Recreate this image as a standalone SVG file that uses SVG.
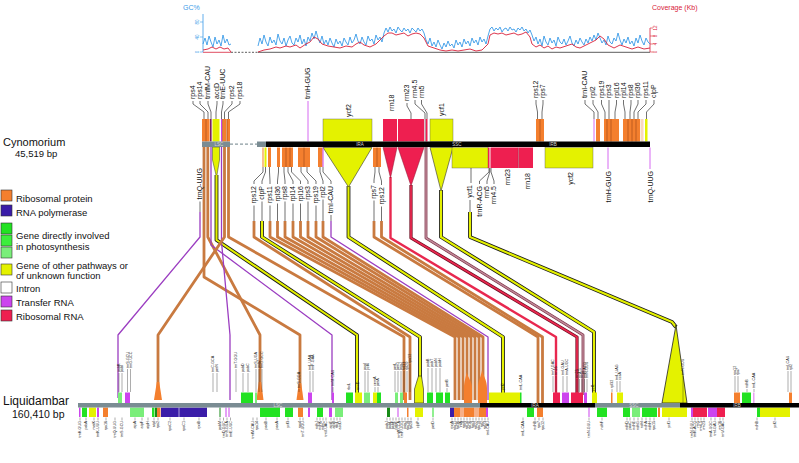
<svg xmlns="http://www.w3.org/2000/svg" width="799" height="463" viewBox="0 0 799 463">
<style>
text{font-family:"Liberation Sans",Arial,sans-serif;fill:#111}
.lg{font-size:9.5px}
.cl{font-size:7px}
.tl{font-size:3.7px}
.bl{font-size:4.5px;fill:#d8d8d8}
.ld{fill:none;stroke:#111;stroke-width:0.6}
.tld{fill:none;stroke:#111;stroke-width:0.35}
.c{fill:none;stroke-linejoin:round}
.o{stroke:#C97A40;stroke-width:2.8}
.p{stroke:#9B3DC1;stroke-width:1.3}
.yk{stroke:#1a1a1a;stroke-width:3.8}
.y{stroke:#E3F000;stroke-width:2.1}
.rk{stroke:#6A0A1E;stroke-width:3.2}
.r{stroke:#E8284F;stroke-width:1.8}
.gk{stroke:#7A3045;stroke-width:2.8}
.g{stroke:#C08898;stroke-width:1.5}
.fo{fill:#F47F2E}
.fi{fill:#3A1CA8}
.fg{fill:#22E222}
.fg2{fill:#3CEE3C}
.fl{fill:#7AEE7A}
.fd{fill:#178A17}
.fy{fill:#E4F200}
.fm{fill:#CC44EE}
.fr{fill:#EE1F50}
.sep{stroke:#8A3A12;stroke-width:0.5}
</style>

<g id="gc-chart">
<text x="183" y="10" font-size="7" style="fill:#3A9BE8">GC%</text>
<text x="652" y="10" font-size="7" style="fill:#D8203A">Coverage (Kb)</text>
<line x1="203" y1="14" x2="203" y2="52" stroke="#3A9BE8" stroke-width="0.8"/>
<path d="M200,22H203M200,37H203M200,52H203" stroke="#3A9BE8" stroke-width="0.6"/>
<text transform="translate(198.5,22) rotate(-90)" text-anchor="middle" font-size="4.5" style="fill:#3A9BE8">80</text>
<text transform="translate(198.5,37) rotate(-90)" text-anchor="middle" font-size="4.5" style="fill:#3A9BE8">40</text>
<text transform="translate(198.5,52) rotate(-90)" text-anchor="middle" font-size="4.5" style="fill:#3A9BE8">0</text>
<line x1="650" y1="28" x2="650" y2="52" stroke="#D8203A" stroke-width="0.8"/>
<path d="M650,28H653M650,36H653M650,44H653M650,52H653" stroke="#D8203A" stroke-width="0.6"/>
<text transform="translate(657,28) rotate(-90)" text-anchor="middle" font-size="4.5" style="fill:#D8203A">12</text>
<text transform="translate(657,36) rotate(-90)" text-anchor="middle" font-size="4.5" style="fill:#D8203A">8</text>
<text transform="translate(657,44) rotate(-90)" text-anchor="middle" font-size="4.5" style="fill:#D8203A">4</text>
<text transform="translate(657,52) rotate(-90)" text-anchor="middle" font-size="4.5" style="fill:#D8203A">0</text>
<line x1="258" y1="52.3" x2="650" y2="52.3" stroke="#333" stroke-width="0.8"/>
<line x1="203" y1="52.3" x2="231" y2="52.3" stroke="#D8203A" stroke-width="0.8"/>
<line x1="231" y1="52.3" x2="258" y2="52.3" stroke="#333" stroke-width="0.8" stroke-dasharray="2,1.5"/>
<path fill="none" stroke="#3A9BE8" stroke-width="0.9" d="M203,44 L205,38 207,45 209,36 211,42 213,47 215,37 217,44 219,40 221,46 223,35 225,43 227,39 229,45 231,44
M258,46 L260,38 262,44 264,35 266,42 268,46 270,37 272,43 274,40 276,45 278,34 280,41 282,44 284,38 286,46 288,40 290,36 292,43 294,45 296,38 298,42 300,35 302,44 304,39 306,46 308,37 310,41 312,33 314,39 316,31 318,38 320,43 322,36 324,44 326,40 328,45 330,38 332,43 334,47 336,39 338,44 340,41 342,46 344,38 346,42 348,45 350,37 352,43 354,40 356,34 358,41 360,44 362,37 364,42 366,45 368,36 370,41 372,39 374,44 376,35 378,40 380,37 382,42 384,33 386,28 388,32 390,27 392,31 394,29 396,33 398,27 400,30 402,32 404,28 406,31 408,29 410,33 412,28 414,30 416,32 418,28 420,31 422,29 424,33 426,40 428,44 430,38 432,46 434,42 436,47 438,40 440,45 442,49 444,43 446,47 448,41 450,46 452,44 454,48 456,40 458,45 460,42 462,47 464,39 466,44 468,41 470,46 472,38 474,43 476,40 478,45 480,37 482,42 484,39 486,44 488,36 490,29 492,27 494,31 496,28 498,30 500,27 502,32 504,29 506,28 508,31 510,27 512,30 514,29 516,32 518,28 520,30 522,27 524,31 526,29 528,33 530,30 532,35 534,41 536,37 538,44 540,39 542,46 544,36 546,42 548,45 550,38 552,43 554,40 556,46 558,37 560,42 562,44 564,39 566,45 568,41 570,36 572,43 574,46 576,40 578,44 580,38 582,42 584,45 586,39 588,43 590,37 592,41 594,35 596,40 598,33 600,38 602,43 604,40 606,45 608,36 610,42 612,44 614,38 616,41 618,33 620,40 622,45 624,39 626,43 628,37 630,44 632,41 634,46 636,38 638,43 640,35 642,41 644,45 646,38 648,42 650,44"/>
<path fill="none" stroke="#D8203A" stroke-width="0.9" d="M203,50 L208,49 212,47 216,49 220,47 224,49 228,48 231,52
M258,52 L264,50 270,49 276,47 280,48 286,46 290,47 296,45 300,48 306,44 310,42 314,37 318,39 322,44 328,46 334,47 340,48 346,46 352,47 356,44 360,42 364,45 370,47 376,44 380,40 384,36 388,33 392,33 396,35 400,34 404,33 408,36 412,34 416,33 420,34 424,38 428,46 434,48 440,50 446,51 452,50 458,51 464,50 470,49 476,51 482,50 488,44 490,35 494,33 498,34 502,33 506,35 510,34 514,33 518,35 522,34 526,32 530,37 532,44 536,47 540,45 544,48 548,46 552,49 556,47 560,48 566,46 572,44 576,47 580,48 586,45 592,42 596,40 600,36 604,39 608,45 614,48 620,45 626,47 632,49 638,47 644,49 650,48"/>
</g>

<g id="legend">
<rect x="1" y="190" width="11" height="11" class="fo" stroke="#333" stroke-width="0.6"/>
<text x="16" y="201.5" class="lg">Ribosomal protein</text>
<rect x="1" y="205" width="11" height="11" class="fi" stroke="#333" stroke-width="0.6"/>
<text x="16" y="215.5" class="lg">RNA polymerase</text>
<rect x="1" y="223" width="11" height="11" class="fg" stroke="#333" stroke-width="0.6"/>
<rect x="1" y="235" width="11" height="11" class="fg2" stroke="#333" stroke-width="0.6"/>
<rect x="1" y="247" width="11" height="11" class="fl" stroke="#333" stroke-width="0.6"/>
<text x="16" y="238.5" class="lg">Gene directly involved</text>
<text x="16" y="249.5" class="lg">in photosynthesis</text>
<rect x="1" y="264" width="11" height="11" class="fy" stroke="#333" stroke-width="0.6"/>
<text x="16" y="268.5" class="lg">Gene of other pathways or</text>
<text x="16" y="278.5" class="lg">of unknown function</text>
<rect x="1" y="282" width="11" height="11" fill="#fff" stroke="#333" stroke-width="0.6"/>
<text x="16" y="291.5" class="lg">Intron</text>
<rect x="1" y="296" width="11" height="11" class="fm" stroke="#333" stroke-width="0.6"/>
<text x="16" y="305.5" class="lg">Transfer RNA</text>
<rect x="1" y="310" width="11" height="11" class="fr" stroke="#333" stroke-width="0.6"/>
<text x="16" y="320" class="lg">Ribosomal RNA</text>
</g>

<g id="genome-titles">
<text x="3" y="146" font-size="11">Cynomorium</text>
<text x="15" y="157" font-size="9.5">45,519 bp</text>
<text x="3" y="405" font-size="12">Liquidambar</text>
<text x="12" y="417.5" font-size="10.5">160,410 bp</text>
</g>

<g id="connectors">
<polyline class="c p" points="200,212 200,237 118,335 118,398"/>
<polyline class="c o" points="204,147 204,277 300,335 300,400"/>
<polyline class="c o" points="207.8,147 207.8,237 260,335 260,400"/>
<polyline class="c p" points="211,147 211,245 332,335 332,400"/>
<polygon points="212.5,147 219.5,147 219.5,160 216.8,176 216.2,176 212.5,160" class="fy" stroke="#333" stroke-width="0.5"/>
<polyline class="c yk" points="216.5,175 216.5,240 357,335 357,398"/>
<polyline class="c y" points="216.5,175 216.5,240 357,335 357,398"/>
<polyline class="c p" points="221.5,147 221.5,242 230,335 230,400"/>
<polyline class="c o" points="224.5,147 224.5,237 158,335 158,400"/>
<polyline class="c o" points="228.5,147 228.5,237 404,337 404,400"/>
<path class="ld" d="M254,205.5V221M262,201.5V221M270,205.5V221M277.5,203.5V221M285,201.5V221M293,203.5V221M300.5,203.5V221M308,201.5V221M316,205.5V221M323,199.5V221M331,215V221M374,200.5V221M381.5,206.5V221M200,201.5V212M470,200V212"/>
<polyline class="c o" points="254,221 254,237 410,337 410,400"/>
<polyline class="c yk" points="262,221 262,237 420,337 420,380"/>
<polyline class="c y" points="262,221 262,237 420,337 420,380"/>
<polyline class="c o" points="270,221 270,237 455,337 455,400"/>
<polyline class="c o" points="277.5,221 277.5,237 459,337 459,400"/>
<polyline class="c o" points="285,221 285,237 463,337 463,400"/>
<polyline class="c o" points="293,221 293,237 467,337 467,400"/>
<polyline class="c o" points="300.5,221 300.5,237 471,337 471,400"/>
<polyline class="c o" points="308,221 308,237 475,337 475,400"/>
<polyline class="c o" points="316,221 316,237 479,337 479,400"/>
<polyline class="c o" points="323,221 323,237 483,337 483,400"/>
<polyline class="c p" points="331,221 331,237 488,337 488,400"/>
<polyline class="c yk" points="348.5,186 348.5,237 503,337 503,395"/>
<polyline class="c y" points="348.5,186 348.5,237 503,337 503,395"/>
<polyline class="c o" points="374,221 374,237 538,337 538,405"/>
<polyline class="c o" points="381.5,221 381.5,237 542.5,337 542.5,405"/>
<polyline class="c r" points="390.5,177 390.5,238 556,337 556,395" style="stroke-width:2.4"/>
<polyline class="c rk" points="411,185 411,238 577,337 577,395"/>
<polyline class="c r" points="411,185 411,238 577,337 577,395"/>
<polyline class="c gk" points="426,147 426,238 583,335 583,395"/>
<polyline class="c g" points="426,147 426,238 583,335 583,395"/>
<polyline class="c yk" points="441,190 441,237 594,332 594,395"/>
<polyline class="c y" points="441,190 441,237 594,332 594,395"/>
<polyline class="c yk" points="470,212 470,237 672,322 676,327"/>
<polyline class="c y" points="470,212 470,237 672,322 676,327"/>
</g>

<g id="cyn-genes-top">
<rect x="202" y="119" width="4" height="22.5" class="fo"/>
<rect x="206" y="119" width="3.6" height="22.5" class="fo"/>
<rect x="210" y="119" width="1.6" height="22.5" fill="#7A1F5C"/>
<rect x="212.5" y="119" width="7" height="22.5" class="fy"/>
<rect x="221" y="119" width="1" height="22.5" class="fm"/>
<rect x="222.5" y="119" width="4" height="22.5" class="fo"/>
<rect x="227" y="119" width="3" height="22.5" class="fo"/>
<path class="sep" d="M206,119V141.5M222.5,119V141.5M227,119V141.5"/>
<line x1="308" y1="101" x2="308" y2="141.5" stroke="#CC44EE" stroke-width="0.8"/>
<rect x="323" y="119" width="49" height="22.5" class="fy" stroke="#555" stroke-width="0.4"/>
<rect x="383" y="119" width="14" height="22.5" class="fr"/>
<rect x="398" y="119" width="26" height="22.5" class="fr"/>
<rect x="424.5" y="119" width="1.5" height="22.5" fill="#C08898"/>
<rect x="426" y="119" width="1.5" height="22.5" class="fr"/>
<rect x="430" y="119" width="23" height="22.5" class="fy" stroke="#555" stroke-width="0.4"/>
<rect x="536" y="119" width="8" height="22.5" class="fo"/>
<path class="sep" d="M540,119V141.5"/>
<line x1="594" y1="119" x2="594" y2="141.5" stroke="#CC44EE" stroke-width="0.8"/>
<rect x="596" y="119" width="4" height="22.5" class="fo"/>
<rect x="604" y="119" width="15" height="22.5" class="fo"/>
<rect x="623" y="119" width="17" height="22.5" class="fo"/>
<rect x="640.5" y="119" width="3" height="22.5" fill="#F8D8C0"/>
<rect x="645" y="119" width="2.5" height="22.5" class="fy"/>
<path class="sep" d="M607,119V141.5M611,119V141.5M628,119V141.5M632,119V141.5M636,119V141.5"/>
</g>

<g id="cyn-genes-bottom">
<polygon points="323,147.5 372,147.5 348.5,187" class="fy" stroke="#333" stroke-width="0.6"/>
<polygon points="383,147.5 397,147.5 390.5,178" class="fr" stroke="#8a1530" stroke-width="0.5"/>
<polygon points="398,147.5 424,147.5 411,186" class="fr" stroke="#8a1530" stroke-width="0.5"/>
<polygon points="430,147.5 453,147.5 441,191" class="fy" stroke="#333" stroke-width="0.6"/>
<rect x="262" y="147.5" width="2" height="19.5" fill="#F8C090"/>
<rect x="264.5" y="147.5" width="2" height="19.5" class="fy"/>
<rect x="268" y="147.5" width="3" height="19.5" class="fo"/>
<rect x="277" y="147.5" width="3" height="19.5" class="fo"/>
<rect x="282" y="147.5" width="11" height="19.5" class="fo"/>
<rect x="298" y="147.5" width="12" height="19.5" class="fo"/>
<rect x="318" y="147.5" width="4.5" height="19.5" class="fo"/>
<rect x="322.5" y="147.5" width="1" height="19.5" class="fm"/>
<rect x="373" y="147.5" width="8" height="19.5" class="fo"/>
<path class="sep" d="M286,147.5V167M290,147.5V167M304,147.5V167M377,147.5V167"/>
<rect x="452" y="147.5" width="36" height="20.5" class="fy" stroke="#555" stroke-width="0.4"/>
<rect x="488" y="147.5" width="1.5" height="20.5" class="fr"/>
<rect x="489.5" y="147.5" width="1.5" height="20.5" fill="#F08AA0"/>
<rect x="491" y="147.5" width="27" height="20.5" class="fr"/>
<rect x="518.5" y="147.5" width="14.5" height="20.5" class="fr"/>
<path stroke="#8a1530" stroke-width="0.5" d="M518.3,147.5V168"/>
<rect x="545" y="147.5" width="48" height="20.5" class="fy" stroke="#555" stroke-width="0.4"/>
<path stroke="#CC44EE" stroke-width="0.8" d="M608,147.5V169M650,147.5V169"/>
</g>

<g id="cyn-bar">
<rect x="202" y="141.5" width="28" height="5.5" fill="#7A8C93"/>
<line x1="230" y1="144.2" x2="257" y2="144.2" stroke="#8A9AA0" stroke-width="1.2" stroke-dasharray="3,2"/>
<rect x="257" y="141.5" width="9" height="5.5" fill="#7A8C93"/>
<rect x="266" y="141.5" width="384" height="5.5" fill="#000"/>
<text x="219" y="146" text-anchor="middle" class="bl">LSC</text>
<text x="360" y="146" text-anchor="middle" class="bl">IRA</text>
<text x="457" y="146" text-anchor="middle" class="bl">SSC</text>
<text x="553" y="146" text-anchor="middle" class="bl">IRB</text>
</g>

<g id="cyn-labels">
<path class="ld" d="M193,101V104L204,112V119M200,101V104L208,112V119M208,101V104L211,112V119M217,101V104L216,112V119M223,101V104L221.5,112V119M232,101V104L224.5,112V119M240,101V104L228.5,112V119"/>
<text class="cl" transform="translate(195.2,99) rotate(-90)">rps4</text>
<text class="cl" transform="translate(202.2,99) rotate(-90)">rps14</text>
<text class="cl" transform="translate(210.2,99) rotate(-90)">trnfM-CAU</text>
<text class="cl" transform="translate(219.2,99) rotate(-90)">accD</text>
<text class="cl" transform="translate(225.2,99) rotate(-90)">trnE-UUC</text>
<text class="cl" transform="translate(234.2,99) rotate(-90)">rps2</text>
<text class="cl" transform="translate(242.2,99) rotate(-90)">rps18</text>
<text class="cl" transform="translate(310.2,99) rotate(-90)">trnH-GUG</text>
<text class="cl" transform="translate(350.5,117) rotate(-90)">ycf2</text>
<text class="cl" transform="translate(394.2,111) rotate(-90)">rrn18</text>
<text class="cl" transform="translate(409.2,101) rotate(-90)">rrn23</text>
<text class="cl" transform="translate(417.2,98) rotate(-90)">rrn4.5</text>
<text class="cl" transform="translate(423.7,98) rotate(-90)">rrn5</text>
<text class="cl" transform="translate(443.7,116) rotate(-90)">ycf1</text>
<path class="ld" d="M407,103V106L411,113V119M415,100V104L425,113V119M421.5,100V104L427,113V119"/>
<path class="ld" d="M536,100V104L537.5,112V119M543,100V104L542,112V119"/>
<text class="cl" transform="translate(538.2,98) rotate(-90)">rps12</text>
<text class="cl" transform="translate(545.2,98) rotate(-90)">rps7</text>
<path class="ld" d="M585,100V104L594,112V119M593,100V104L598,112V119M601.5,100V104L605,112V119M609,100V104L609,112V119M616.5,100V104L615,112V119M623.5,100V104L625,112V119M631,100V104L630,112V119M638,100V104L634,112V119M646,100V104L638,112V119M654,100V104L646.5,112V119"/>
<text class="cl" transform="translate(587.2,98) rotate(-90)">trnI-CAU</text>
<text class="cl" transform="translate(595.2,98) rotate(-90)">rpl2</text>
<text class="cl" transform="translate(603.7,98) rotate(-90)">rps19</text>
<text class="cl" transform="translate(611.2,98) rotate(-90)">rps3</text>
<text class="cl" transform="translate(618.7,98) rotate(-90)">rpl16</text>
<text class="cl" transform="translate(625.7,98) rotate(-90)">rpl14</text>
<text class="cl" transform="translate(633.2,98) rotate(-90)">rps8</text>
<text class="cl" transform="translate(640.2,98) rotate(-90)">rpl36</text>
<text class="cl" transform="translate(648.2,98) rotate(-90)">rps11</text>
<text class="cl" transform="translate(656.2,98) rotate(-90)">clpP</text>
<path class="ld" d="M263,167V172L254,181V184M265.5,167V172L262,181V184M269.5,167V172L270,181V184M278.5,167V172L277.5,181V184M284,167V172L285,181V184M288,167V172L293,181V184M291.5,167V172L300.5,181V184M301,167V172L308,181V184M307,167V172L316,181V184M320,167V172L323,181V184M323,167V172L331,181V184M375,167V172L374,180V183M379,167V172L381.5,181V185M471,168V183M489,168V172L479.5,181V184M489.8,168V172L487,181V184M491,168V172L494,181V184"/>
<text class="cl" text-anchor="end" transform="translate(202.2,168) rotate(-90)">trnQ-UUG</text>
<text class="cl" text-anchor="end" transform="translate(256.2,186) rotate(-90)">rps12</text>
<text class="cl" text-anchor="end" transform="translate(264.2,186) rotate(-90)">clpP</text>
<text class="cl" text-anchor="end" transform="translate(272.2,186) rotate(-90)">rps11</text>
<text class="cl" text-anchor="end" transform="translate(279.7,186) rotate(-90)">rpl36</text>
<text class="cl" text-anchor="end" transform="translate(287.2,186) rotate(-90)">rps8</text>
<text class="cl" text-anchor="end" transform="translate(295.2,186) rotate(-90)">rpl14</text>
<text class="cl" text-anchor="end" transform="translate(302.7,186) rotate(-90)">rpl16</text>
<text class="cl" text-anchor="end" transform="translate(310.2,186) rotate(-90)">rps3</text>
<text class="cl" text-anchor="end" transform="translate(318.2,186) rotate(-90)">rps19</text>
<text class="cl" text-anchor="end" transform="translate(325.2,186) rotate(-90)">rpl2</text>
<text class="cl" text-anchor="end" transform="translate(333.2,186) rotate(-90)">trnI-CAU</text>
<text class="cl" text-anchor="end" transform="translate(376.2,185) rotate(-90)">rps7</text>
<text class="cl" text-anchor="end" transform="translate(383.7,187) rotate(-90)">rps12</text>
<text class="cl" text-anchor="end" transform="translate(472.2,185) rotate(-90)">ycf1</text>
<text class="cl" text-anchor="end" transform="translate(481.7,186) rotate(-90)">trnR-ACG</text>
<text class="cl" text-anchor="end" transform="translate(489.2,186) rotate(-90)">rrn5</text>
<text class="cl" text-anchor="end" transform="translate(496.2,186) rotate(-90)">rrn4.5</text>
<text class="cl" text-anchor="end" transform="translate(510.2,169) rotate(-90)">rrn23</text>
<text class="cl" text-anchor="end" transform="translate(530.2,173) rotate(-90)">rrn18</text>
<text class="cl" text-anchor="end" transform="translate(573.2,172) rotate(-90)">ycf2</text>
<text class="cl" text-anchor="end" transform="translate(611.2,171) rotate(-90)">trnH-GUG</text>
<text class="cl" text-anchor="end" transform="translate(653.2,171) rotate(-90)">trnQ-UUG</text>
</g>

<g id="liq-genes">
<polygon points="156.8,382 159.2,382 162,400 154,400" class="fo"/>
<polygon points="258.8,382 261.2,382 263.5,400 256.5,400" class="fo"/>
<polygon points="298.8,383 301.2,383 303.5,400 296.5,400" class="fo"/>
<path class="fo" d="M466.5,372 C468,378 472,381 472,388 L472,403 L464,403 L464,388 C464,381 466,378 466.5,372 Z"/>
<path class="fo" d="M482,370 C484,377 487,381 487,388 L487,403 L478,403 L478,388 C478,381 481,377 482,370 Z"/>
<path class="fy" stroke="#222" stroke-width="0.6" d="M418.5,376 L421.5,376 L423.5,389 L423.5,403 L414.5,403 L414.5,389 Z"/>
<path class="fy" stroke="#222" stroke-width="0.8" d="M676,325 L687,403 L662,403 Z"/>
<rect x="118" y="392.5" width="4" height="10.5" class="fl"/>
<rect x="125" y="392.5" width="5" height="10.5" class="fm"/>
<rect x="241" y="392.5" width="12" height="10.5" class="fg"/>
<rect x="255" y="392.5" width="2" height="10.5" class="fl"/>
<rect x="308" y="392.5" width="4" height="10.5" class="fm"/>
<rect x="332" y="392.5" width="2" height="10.5" class="fm"/>
<rect x="346" y="392.5" width="7" height="10.5" class="fg"/>
<rect x="355" y="392.5" width="7" height="10.5" class="fy"/>
<rect x="364" y="392.5" width="6" height="10.5" class="fl"/>
<rect x="373" y="392.5" width="4" height="10.5" class="fy"/>
<rect x="377" y="392.5" width="4" height="10.5" class="fg"/>
<rect x="395" y="392.5" width="3" height="10.5" class="fl"/>
<rect x="400" y="392.5" width="3" height="10.5" class="fl"/>
<rect x="404" y="392.5" width="3" height="10.5" class="fo"/>
<rect x="427" y="392.5" width="6" height="10.5" class="fg"/>
<rect x="436" y="392.5" width="7" height="10.5" class="fg"/>
<rect x="445" y="392.5" width="5" height="10.5" class="fg"/>
<rect x="489" y="392.5" width="31" height="10.5" class="fy"/>
<rect x="520" y="392.5" width="1.5" height="10.5" class="fg"/>
<rect x="553" y="392.5" width="7" height="10.5" class="fr"/>
<rect x="562" y="392.5" width="7" height="10.5" class="fm"/>
<rect x="571" y="392.5" width="12" height="10.5" class="fr"/>
<rect x="584" y="392.5" width="3" height="10.5" class="fm"/>
<rect x="592" y="392.5" width="5" height="10.5" class="fy"/>
<rect x="611" y="392.5" width="1.5" height="10.5" class="fo"/>
<rect x="617" y="392.5" width="6" height="10.5" class="fy"/>
<rect x="734" y="392.5" width="6" height="10.5" class="fo"/>
<rect x="742" y="392.5" width="9" height="10.5" class="fg"/>
<rect x="753" y="392.5" width="1.5" height="10.5" fill="#E8A0F4"/>
<rect x="789" y="392.5" width="3" height="10.5" class="fo"/>
<rect x="79" y="407.5" width="1.5" height="9.5" class="fm"/>
<rect x="82" y="407.5" width="5" height="9.5" class="fg"/>
<rect x="89" y="407.5" width="7" height="9.5" class="fy"/>
<rect x="97" y="407.5" width="2" height="9.5" class="fm"/>
<rect x="103" y="407.5" width="5" height="9.5" class="fo"/>
<rect x="130" y="407.5" width="14" height="9.5" class="fl"/>
<rect x="152" y="407.5" width="2.5" height="9.5" class="fg"/>
<rect x="155" y="407.5" width="2" height="9.5" class="fd"/>
<rect x="157" y="407.5" width="3.5" height="9.5" class="fo"/>
<rect x="161" y="407.5" width="46" height="9.5" class="fi"/>
<line x1="179" y1="407.5" x2="179" y2="417" stroke="#fff" stroke-width="0.6"/>
<rect x="219.5" y="407.5" width="1" height="9.5" class="fd"/>
<rect x="225.5" y="407.5" width="1" height="9.5" class="fm"/>
<rect x="228.5" y="407.5" width="1" height="9.5" class="fm"/>
<rect x="260" y="407.5" width="20" height="9.5" class="fg"/>
<rect x="285" y="407.5" width="8" height="9.5" class="fg"/>
<rect x="298" y="407.5" width="5" height="9.5" class="fo"/>
<rect x="308" y="407.5" width="2" height="9.5" class="fm"/>
<rect x="317" y="407.5" width="6" height="9.5" class="fg"/>
<rect x="329" y="407.5" width="3" height="9.5" class="fm"/>
<rect x="335" y="407.5" width="8" height="9.5" class="fl"/>
<rect x="387" y="407.5" width="3" height="9.5" class="fd"/>
<rect x="397.5" y="407.5" width="1" height="9.5" class="fm"/>
<rect x="407" y="407.5" width="1.5" height="9.5" class="fo"/>
<rect x="415" y="407.5" width="8" height="9.5" class="fy"/>
<rect x="432.5" y="407.5" width="1" height="9.5" class="fg"/>
<rect x="450" y="407.5" width="4" height="9.5" class="fi"/>
<rect x="454" y="407.5" width="6" height="9.5" class="fo"/>
<rect x="460" y="407.5" width="4" height="9.5" fill="#F7B088"/>
<rect x="464" y="407.5" width="10" height="9.5" class="fo"/>
<rect x="474" y="407.5" width="5" height="9.5" fill="#F7B088"/>
<rect x="479" y="407.5" width="7" height="9.5" class="fo"/>
<rect x="486" y="407.5" width="2" height="9.5" class="fm"/>
<rect x="527" y="407.5" width="7" height="9.5" class="fg"/>
<rect x="537" y="407.5" width="6" height="9.5" class="fo"/>
<rect x="588.5" y="407.5" width="1" height="9.5" class="fm"/>
<rect x="597" y="407.5" width="10" height="9.5" class="fg"/>
<rect x="623" y="407.5" width="7" height="9.5" class="fg"/>
<rect x="632" y="407.5" width="8" height="9.5" class="fl"/>
<rect x="642" y="407.5" width="15" height="9.5" class="fg"/>
<rect x="658" y="407.5" width="2" height="9.5" class="fo"/>
<rect x="662" y="407.5" width="25" height="9.5" class="fy"/>
<rect x="691" y="407.5" width="2" height="9.5" class="fm"/>
<rect x="693" y="407.5" width="14" height="9.5" class="fr"/>
<rect x="708" y="407.5" width="9" height="9.5" class="fm"/>
<rect x="717" y="407.5" width="8" height="9.5" class="fr"/>
<rect x="757" y="407.5" width="3" height="9.5" class="fg"/>
<rect x="760" y="407.5" width="30" height="9.5" class="fy"/>
</g>

<g id="liq-bar">
<rect x="78" y="403" width="402" height="4.5" fill="#7A8C93"/>
<rect x="480" y="403" width="115" height="4.5" fill="#000"/>
<rect x="595" y="403" width="85" height="4.5" fill="#7A8C93"/>
<rect x="680" y="403" width="119" height="4.5" fill="#000"/>
<text x="278" y="407" text-anchor="middle" class="bl">LSC</text>
<text x="535" y="407" text-anchor="middle" class="bl">IRA</text>
<text x="634" y="407" text-anchor="middle" class="bl">SSC</text>
<text x="737" y="407" text-anchor="middle" class="bl">IRB</text>
</g>

<g id="liq-labels">
<path class="tld" d="M119,373V392M122,373V392M127.5,369V392M130.5,369V392M213,373V392M217,373V392M236,369V392M243,373V392M248,373V392M256,369V392M259,369V392M262,369V392M299,389V392M310,371V392M313,371V392M333,387V392M365,371V392M368,371V392M375,387V392M378,387V392M395,371V392M398,371V392M401,371V392M404,371V392M407,371V392M410,364V392M428,368V392M432,368V392M436,368V392M440,368V392M447,388V392M553,376V392M556,376V392M563,376V392M567,376V392M577,379V392M579.5,379V392M582,379V392M584.5,379V392M587,379V392M612,389V392M617,381V392M620,381V392M683,376V403M735,376V392M738,376V392M747,389V392M754,389V392M788,371V392M791,371V392"/>
<path class="tld" d="M80,417.5V420.5M86,417.5V420.5M94,417.5V420.5M98,417.5V420.5M106,417.5V420.5M115,417.5V420.5M122,417.5V420.5M135,417.5V420.5M142,417.5V420.5M148,417.5V420.5M154,417.5V420.5M158,417.5V420.5M170,417.5V420.5M184,417.5V420.5M199,417.5V420.5M220,417.5V420.5M223.5,417.5V420.5M227,417.5V420.5M230.5,417.5V420.5M253,417.5V420.5M257,417.5V420.5M266,417.5V420.5M277,417.5V420.5M288,417.5V420.5M300,417.5V420.5M303,417.5V420.5M317,417.5V420.5M320,417.5V420.5M323,417.5V420.5M326,417.5V420.5M331,417.5V420.5M334,417.5V420.5M337,417.5V420.5M340,417.5V420.5M387,417.5V420.5M390,417.5V420.5M393,417.5V420.5M396,417.5V420.5M399,417.5V420.5M402,417.5V420.5M405,417.5V420.5M408,417.5V420.5M411,417.5V420.5M418,417.5V420.5M433,417.5V420.5M452,417.5V420.5M455,417.5V420.5M458,417.5V420.5M461,417.5V420.5M464,417.5V420.5M467,417.5V420.5M470,417.5V420.5M473,417.5V420.5M476,417.5V420.5M479,417.5V420.5M482,417.5V420.5M485,417.5V420.5M488,417.5V420.5M523,417.5V420.5M535,417.5V420.5M539,417.5V420.5M543,417.5V420.5M589,417.5V420.5M602,417.5V420.5M627,417.5V420.5M630,417.5V420.5M634,417.5V420.5M638,417.5V420.5M642,417.5V420.5M646,417.5V420.5M650,417.5V420.5M654,417.5V420.5M669,417.5V420.5M692,417.5V420.5M695,417.5V420.5M698,417.5V420.5M701,417.5V420.5M704,417.5V420.5M711,417.5V420.5M715,417.5V420.5M720,417.5V420.5M723,417.5V420.5M757,417.5V420.5M775,417.5V420.5"/>
<text class="tl" transform="translate(120.2,372) rotate(-90)">psbK</text>
<text class="tl" transform="translate(123.2,372) rotate(-90)">psbI</text>
<text class="tl" transform="translate(128.7,368) rotate(-90)">trnS-GCU</text>
<text class="tl" transform="translate(131.7,368) rotate(-90)">trnG-UCC</text>
<text class="tl" transform="translate(214.2,372) rotate(-90)">trnC-GCA</text>
<text class="tl" transform="translate(218.2,372) rotate(-90)">petN</text>
<text class="tl" transform="translate(237.2,368) rotate(-90)">trnT-GGU</text>
<text class="tl" transform="translate(244.2,372) rotate(-90)">psbD</text>
<text class="tl" transform="translate(249.2,372) rotate(-90)">psbC</text>
<text class="tl" transform="translate(257.2,368) rotate(-90)">trnS-UGA</text>
<text class="tl" transform="translate(260.2,368) rotate(-90)">psbZ</text>
<text class="tl" transform="translate(263.2,368) rotate(-90)">trnG-GCC</text>
<text class="tl" transform="translate(300.2,388) rotate(-90)">trnS-GGA</text>
<text class="tl" transform="translate(311.2,370) rotate(-90)">trnL-UAA</text>
<text class="tl" transform="translate(314.2,370) rotate(-90)">trnF-GAA</text>
<text class="tl" transform="translate(334.2,386) rotate(-90)">trnM-CAU</text>
<text class="tl" transform="translate(350.2,390) rotate(-90)">rbcL</text>
<text class="tl" transform="translate(359.2,390) rotate(-90)">accD</text>
<text class="tl" transform="translate(366.2,370) rotate(-90)">psaI</text>
<text class="tl" transform="translate(369.2,370) rotate(-90)">ycf4</text>
<text class="tl" transform="translate(376.2,386) rotate(-90)">cemA</text>
<text class="tl" transform="translate(379.2,386) rotate(-90)">petA</text>
<text class="tl" transform="translate(396.2,370) rotate(-90)">petL</text>
<text class="tl" transform="translate(399.2,370) rotate(-90)">petG</text>
<text class="tl" transform="translate(402.2,370) rotate(-90)">psaJ</text>
<text class="tl" transform="translate(405.2,370) rotate(-90)">rpl33</text>
<text class="tl" transform="translate(408.2,370) rotate(-90)">rpl20</text>
<text class="tl" transform="translate(411.2,363) rotate(-90)">rps12</text>
<text class="tl" transform="translate(429.2,367) rotate(-90)">psbB</text>
<text class="tl" transform="translate(433.2,367) rotate(-90)">psbT</text>
<text class="tl" transform="translate(437.2,367) rotate(-90)">psbN</text>
<text class="tl" transform="translate(441.2,367) rotate(-90)">psbH</text>
<text class="tl" transform="translate(448.2,387) rotate(-90)">petB</text>
<text class="tl" transform="translate(504.2,390) rotate(-90)">ycf2</text>
<text class="tl" transform="translate(522.2,390) rotate(-90)">trnL-CAA</text>
<text class="tl" transform="translate(554.2,375) rotate(-90)">trnV-GAC</text>
<text class="tl" transform="translate(557.2,375) rotate(-90)">rrn16</text>
<text class="tl" transform="translate(564.2,375) rotate(-90)">trnI-GAU</text>
<text class="tl" transform="translate(568.2,375) rotate(-90)">trnA-UGC</text>
<text class="tl" transform="translate(578.2,378) rotate(-90)">rrn23</text>
<text class="tl" transform="translate(580.7,378) rotate(-90)">rrn4.5</text>
<text class="tl" transform="translate(583.2,378) rotate(-90)">rrn5</text>
<text class="tl" transform="translate(585.7,378) rotate(-90)">trnR-ACG</text>
<text class="tl" transform="translate(588.2,378) rotate(-90)">trnN-GUU</text>
<text class="tl" transform="translate(594.2,391) rotate(-90)">ycf1</text>
<text class="tl" transform="translate(613.2,388) rotate(-90)">rpl32</text>
<text class="tl" transform="translate(618.2,380) rotate(-90)">trnL-UAG</text>
<text class="tl" transform="translate(621.2,380) rotate(-90)">ccsA</text>
<text class="tl" transform="translate(684.2,375) rotate(-90)">trnN-GUU</text>
<text class="tl" transform="translate(736.2,375) rotate(-90)">rps12</text>
<text class="tl" transform="translate(739.2,375) rotate(-90)">rps7</text>
<text class="tl" transform="translate(748.2,388) rotate(-90)">ndhB</text>
<text class="tl" transform="translate(755.2,388) rotate(-90)">trnL-CAA</text>
<text class="tl" transform="translate(789.2,370) rotate(-90)">trnI-CAU</text>
<text class="tl" transform="translate(792.2,370) rotate(-90)">rpl2</text>
<g text-anchor="end">
<text class="tl" transform="translate(81.2,421) rotate(-90)">trnH-GUG</text>
<text class="tl" transform="translate(87.2,421) rotate(-90)">psbA</text>
<text class="tl" transform="translate(95.2,421) rotate(-90)">matK</text>
<text class="tl" transform="translate(99.2,421) rotate(-90)">trnK-UUU</text>
<text class="tl" transform="translate(107.2,421) rotate(-90)">rps16</text>
<text class="tl" transform="translate(116.2,421) rotate(-90)">trnQ-UUG</text>
<text class="tl" transform="translate(123.2,421) rotate(-90)">trnS-GCU</text>
<text class="tl" transform="translate(136.2,421) rotate(-90)">atpA</text>
<text class="tl" transform="translate(143.2,421) rotate(-90)">atpF</text>
<text class="tl" transform="translate(149.2,421) rotate(-90)">atpH</text>
<text class="tl" transform="translate(155.2,421) rotate(-90)">atpI</text>
<text class="tl" transform="translate(159.2,421) rotate(-90)">rps2</text>
<text class="tl" transform="translate(171.2,421) rotate(-90)">rpoC2</text>
<text class="tl" transform="translate(185.2,421) rotate(-90)">rpoC1</text>
<text class="tl" transform="translate(200.2,421) rotate(-90)">rpoB</text>
<text class="tl" transform="translate(221.2,421) rotate(-90)">psbM</text>
<text class="tl" transform="translate(224.7,421) rotate(-90)">trnD-GUC</text>
<text class="tl" transform="translate(228.2,421) rotate(-90)">trnY-GUA</text>
<text class="tl" transform="translate(231.7,421) rotate(-90)">trnE-UUC</text>
<text class="tl" transform="translate(254.2,421) rotate(-90)">trnfM-CAU</text>
<text class="tl" transform="translate(258.2,421) rotate(-90)">rps14</text>
<text class="tl" transform="translate(267.2,421) rotate(-90)">psaB</text>
<text class="tl" transform="translate(278.2,421) rotate(-90)">psaA</text>
<text class="tl" transform="translate(289.2,421) rotate(-90)">ycf3</text>
<text class="tl" transform="translate(301.2,421) rotate(-90)">rps4</text>
<text class="tl" transform="translate(304.2,421) rotate(-90)">trnT-UGU</text>
<text class="tl" transform="translate(318.2,421) rotate(-90)">ndhJ</text>
<text class="tl" transform="translate(321.2,421) rotate(-90)">ndhK</text>
<text class="tl" transform="translate(324.2,421) rotate(-90)">ndhC</text>
<text class="tl" transform="translate(327.2,421) rotate(-90)">trnV-UAC</text>
<text class="tl" transform="translate(332.2,421) rotate(-90)">atpE</text>
<text class="tl" transform="translate(335.2,421) rotate(-90)">atpB</text>
<text class="tl" transform="translate(338.2,421) rotate(-90)">rbcL</text>
<text class="tl" transform="translate(341.2,421) rotate(-90)">accD</text>
<text class="tl" transform="translate(388.2,421) rotate(-90)">psbJ</text>
<text class="tl" transform="translate(391.2,421) rotate(-90)">psbL</text>
<text class="tl" transform="translate(394.2,421) rotate(-90)">psbF</text>
<text class="tl" transform="translate(397.2,421) rotate(-90)">psbE</text>
<text class="tl" transform="translate(400.2,421) rotate(-90)">trnW-CCA</text>
<text class="tl" transform="translate(403.2,421) rotate(-90)">trnP-UGG</text>
<text class="tl" transform="translate(406.2,421) rotate(-90)">psaJ</text>
<text class="tl" transform="translate(409.2,421) rotate(-90)">rps18</text>
<text class="tl" transform="translate(412.2,421) rotate(-90)">rpl20</text>
<text class="tl" transform="translate(419.2,421) rotate(-90)">clpP</text>
<text class="tl" transform="translate(434.2,421) rotate(-90)">petD</text>
<text class="tl" transform="translate(453.2,421) rotate(-90)">rpoA</text>
<text class="tl" transform="translate(456.2,421) rotate(-90)">rps11</text>
<text class="tl" transform="translate(459.2,421) rotate(-90)">rpl36</text>
<text class="tl" transform="translate(462.2,421) rotate(-90)">infA</text>
<text class="tl" transform="translate(465.2,421) rotate(-90)">rps8</text>
<text class="tl" transform="translate(468.2,421) rotate(-90)">rpl14</text>
<text class="tl" transform="translate(471.2,421) rotate(-90)">rpl16</text>
<text class="tl" transform="translate(474.2,421) rotate(-90)">rps3</text>
<text class="tl" transform="translate(477.2,421) rotate(-90)">rpl22</text>
<text class="tl" transform="translate(480.2,421) rotate(-90)">rps19</text>
<text class="tl" transform="translate(483.2,421) rotate(-90)">rpl2</text>
<text class="tl" transform="translate(486.2,421) rotate(-90)">rpl23</text>
<text class="tl" transform="translate(489.2,421) rotate(-90)">trnI-CAU</text>
<text class="tl" transform="translate(524.2,421) rotate(-90)">trnL-CAA</text>
<text class="tl" transform="translate(536.2,421) rotate(-90)">ndhB</text>
<text class="tl" transform="translate(540.2,421) rotate(-90)">rps7</text>
<text class="tl" transform="translate(544.2,421) rotate(-90)">rps12</text>
<text class="tl" transform="translate(590.2,421) rotate(-90)">trnN-GUU</text>
<text class="tl" transform="translate(603.2,421) rotate(-90)">ndhF</text>
<text class="tl" transform="translate(628.2,421) rotate(-90)">ndhD</text>
<text class="tl" transform="translate(631.2,421) rotate(-90)">psaC</text>
<text class="tl" transform="translate(635.2,421) rotate(-90)">ndhE</text>
<text class="tl" transform="translate(639.2,421) rotate(-90)">ndhG</text>
<text class="tl" transform="translate(643.2,421) rotate(-90)">ndhI</text>
<text class="tl" transform="translate(647.2,421) rotate(-90)">ndhA</text>
<text class="tl" transform="translate(651.2,421) rotate(-90)">ndhH</text>
<text class="tl" transform="translate(655.2,421) rotate(-90)">rps15</text>
<text class="tl" transform="translate(670.2,421) rotate(-90)">ycf1</text>
<text class="tl" transform="translate(693.2,421) rotate(-90)">trnN-GUU</text>
<text class="tl" transform="translate(696.2,421) rotate(-90)">trnR-ACG</text>
<text class="tl" transform="translate(699.2,421) rotate(-90)">rrn5</text>
<text class="tl" transform="translate(702.2,421) rotate(-90)">rrn4.5</text>
<text class="tl" transform="translate(705.2,421) rotate(-90)">rrn23</text>
<text class="tl" transform="translate(712.2,421) rotate(-90)">trnA-UGC</text>
<text class="tl" transform="translate(716.2,421) rotate(-90)">trnI-GAU</text>
<text class="tl" transform="translate(721.2,421) rotate(-90)">rrn16</text>
<text class="tl" transform="translate(724.2,421) rotate(-90)">trnV-GAC</text>
<text class="tl" transform="translate(758.2,421) rotate(-90)">ndhB</text>
<text class="tl" transform="translate(776.2,421) rotate(-90)">ycf2</text>
</g>
</g>
</svg>
